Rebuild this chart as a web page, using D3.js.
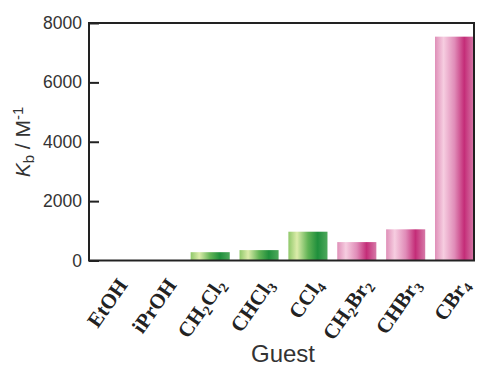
<!DOCTYPE html>
<html>
<head>
<meta charset="utf-8">
<script src="https://cdn.jsdelivr.net/npm/d3@7"></script>
<style>
  html, body { margin: 0; padding: 0; background: #fff; }
  svg { display: block; }
</style>
</head>
<body>
<svg id="chart" width="477" height="367"></svg>
<script>
// Guest molecules and their binding constants (M^-1)
const guests = ["EtOH", "iPrOH", "CH2Cl2", "CHCl3", "CCl4", "CH2Br2", "CHBr3", "CBr4"];
const kb = [0, 0, 280, 350, 970, 620, 1050, 7540];
const family = ["none", "none", "cl", "cl", "cl", "br", "br", "br"];
// Formula labels split into [text, isSubscript] pieces
const labelParts = [
  [["EtOH", 0]],
  [["iPrOH", 0]],
  [["CH", 0], ["2", 1], ["Cl", 0], ["2", 1]],
  [["CHCl", 0], ["3", 1]],
  [["CCl", 0], ["4", 1]],
  [["CH", 0], ["2", 1], ["Br", 0], ["2", 1]],
  [["CHBr", 0], ["3", 1]],
  [["CBr", 0], ["4", 1]]
];
const yTicks = [0, 2000, 4000, 6000, 8000];

const svg = d3.select("#chart");
const plotL = 89, plotR = 474, plotT = 23, plotB = 260.5;

const x = d3.scaleBand().domain(guests).range([plotL, plotR + 4])
  .paddingInner(0.2).paddingOuter(0.08);
const y = d3.scaleLinear().domain([0, 8000]).range([plotB, plotT]);

// Gradients giving the bars a cylindrical look
const defs = svg.append("defs");
const gradStops = {
  cl: [[0, "#8fc86a"], [0.22, "#dcecaa"], [0.5, "#62b456"], [0.75, "#1f8f3c"], [1, "#4ea95c"]],
  br: [[0, "#df8fb8"], [0.22, "#f6cde0"], [0.5, "#e08cb8"], [0.75, "#c42d78"], [1, "#d67aa8"]]
};
Object.entries(gradStops).forEach(([id, stops]) => {
  const g = defs.append("linearGradient").attr("id", "g-" + id)
    .attr("x1", "0%").attr("x2", "100%").attr("y1", "0%").attr("y2", "0%");
  stops.forEach(([o, c]) => g.append("stop").attr("offset", o).attr("stop-color", c));
});

// Bars
svg.append("g").selectAll("rect")
  .data(guests.map((g, i) => ({ g, v: kb[i], f: family[i] })).filter(d => d.v > 0))
  .join("rect")
  .attr("x", d => x(d.g))
  .attr("width", x.bandwidth())
  .attr("y", d => y(d.v))
  .attr("height", d => y(0) - y(d.v))
  .attr("fill", d => "url(#g-" + d.f + ")");

// Y axis with inward ticks
const yAxis = d3.axisLeft(y).tickValues(yTicks).tickSizeInner(-10).tickSizeOuter(0).tickPadding(7)
  .tickFormat(d3.format("d"));
const ya = svg.append("g").attr("transform", `translate(${plotL},0)`).call(yAxis);
ya.select(".domain").remove();
ya.selectAll(".tick line").attr("stroke", "#222").attr("stroke-width", 2);
ya.selectAll(".tick text")
  .attr("font-family", "Liberation Sans, Arial, sans-serif")
  .attr("font-size", 17.5).attr("fill", "#333");

// Frame
svg.append("rect").attr("x", plotL).attr("y", plotT)
  .attr("width", plotR - plotL).attr("height", plotB - plotT)
  .attr("fill", "none").attr("stroke", "#222").attr("stroke-width", 2);

// Rotated formula labels
const lab = svg.append("g");
guests.forEach((g, i) => {
  const cx = x(g) + x.bandwidth() / 2 + 16;
  const t = lab.append("text")
    .attr("transform", `translate(${cx},285) rotate(-55)`)
    .attr("text-anchor", "end")
    .attr("font-family", "Liberation Serif, 'Times New Roman', serif")
    .attr("font-weight", "bold")
    .attr("font-size", 21)
    .attr("fill", "#222");
  labelParts[i].forEach(([s, sub]) => {
    const ts = t.append("tspan").text(s);
    if (sub) ts.attr("font-size", 14).attr("baseline-shift", "-25%");
  });
});

// Axis titles
const yl = svg.append("text")
  .attr("transform", "translate(30,142) rotate(-90)")
  .attr("text-anchor", "middle")
  .attr("font-family", "Liberation Sans, Arial, sans-serif")
  .attr("font-size", 21).attr("fill", "#333");
yl.append("tspan").text("K").attr("font-style", "italic");
yl.append("tspan").text("b").attr("font-size", 15).attr("baseline-shift", "-25%");
yl.append("tspan").text(" / M");
yl.append("tspan").text("-1").attr("font-size", 15).attr("baseline-shift", "45%");

svg.append("text")
  .attr("x", 283).attr("y", 362)
  .attr("text-anchor", "middle")
  .attr("font-family", "Liberation Sans, Arial, sans-serif")
  .attr("font-size", 24).attr("fill", "#333")
  .text("Guest");
</script>
</body>
</html>
